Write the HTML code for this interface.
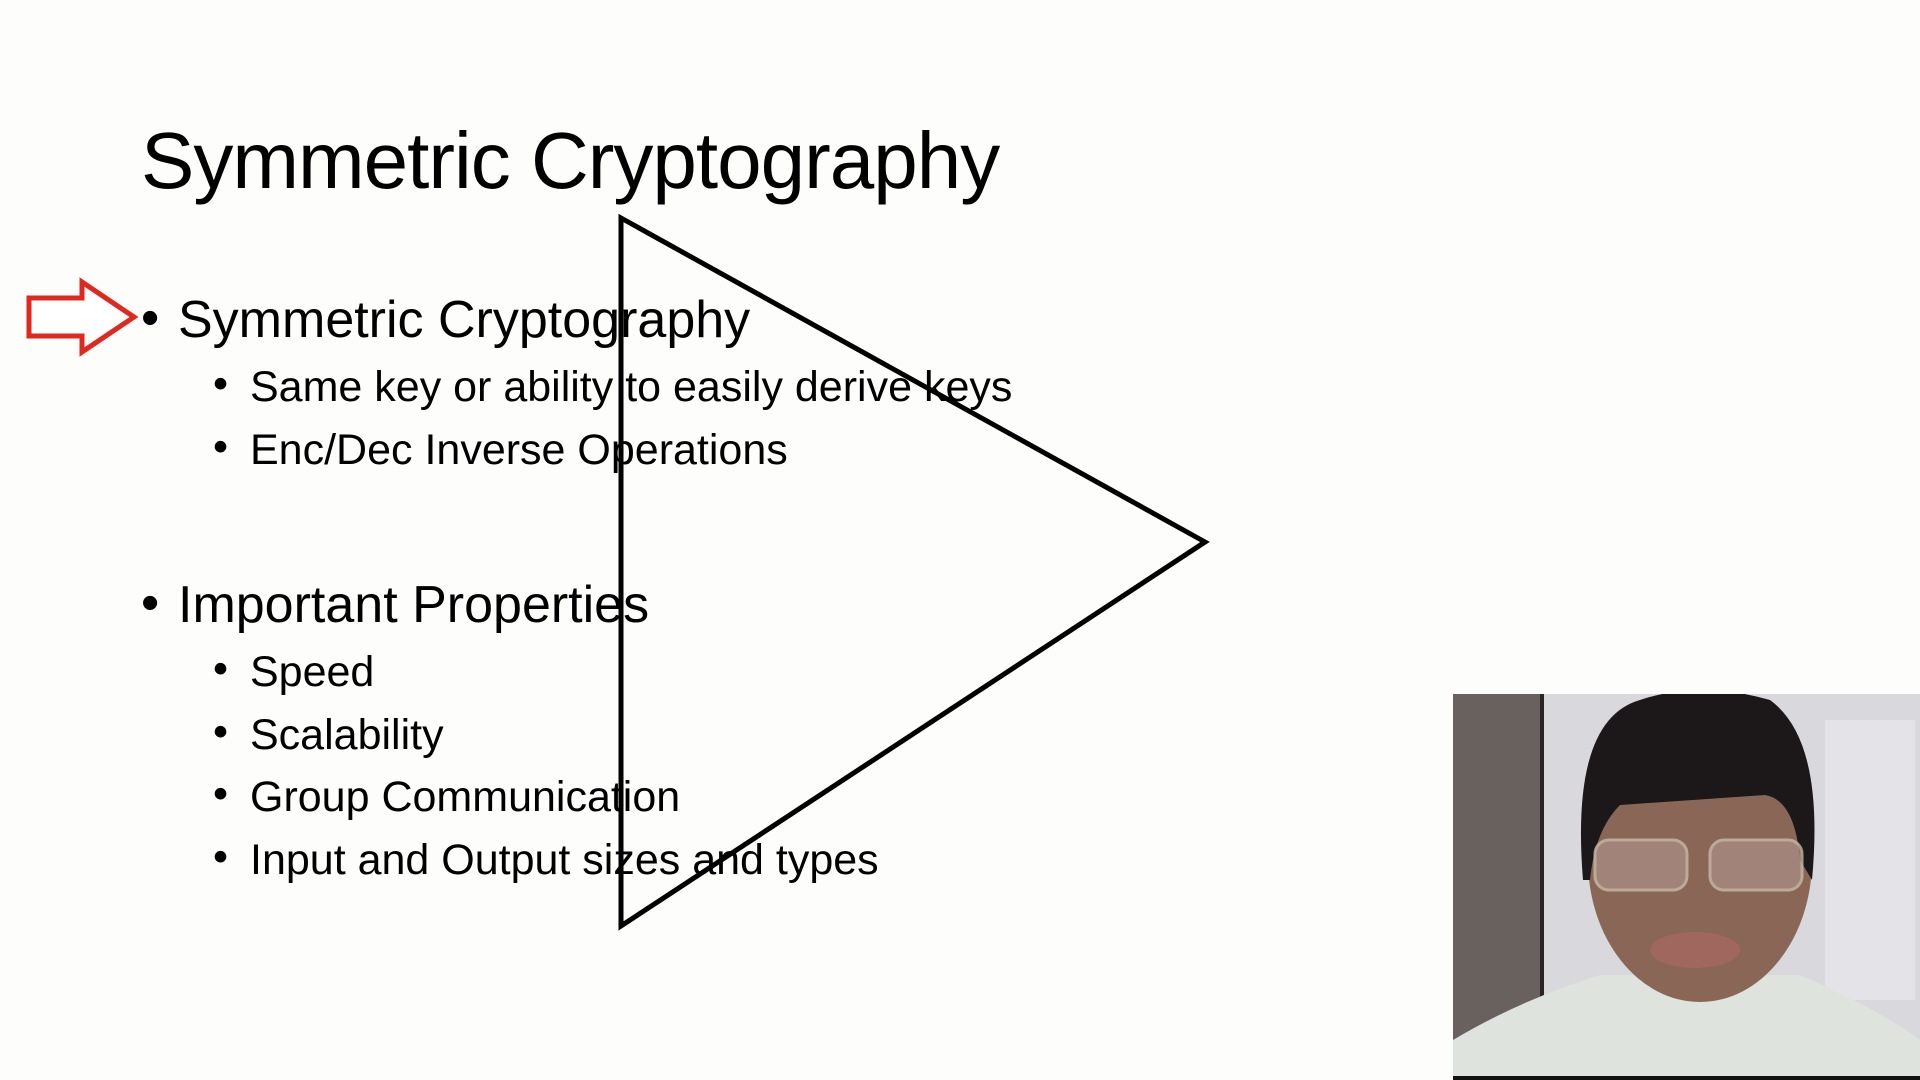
<!DOCTYPE html>
<html><head><meta charset="utf-8"><style>
body{margin:0;width:1920px;height:1080px;background:#fdfdfb;position:relative;overflow:hidden;font-family:"Liberation Sans",sans-serif;color:#000}
.t{position:absolute;white-space:nowrap;line-height:1}
.a{font-size:52px}
.b{font-size:43px}
</style></head><body>
<div class="t" style="left:141px;top:121px;font-size:80px;letter-spacing:-1px">Symmetric Cryptography</div>
<div class="t a" style="left:141px;top:292px">•</div>
<div class="t a" style="left:178px;top:294px">Symmetric Cryptography</div>
<div class="t b" style="left:213px;top:363px">•</div>
<div class="t b" style="left:250px;top:366px">Same key or ability to easily derive keys</div>
<div class="t b" style="left:213px;top:426px">•</div>
<div class="t b" style="left:250px;top:429px">Enc/Dec Inverse Operations</div>
<div class="t a" style="left:141px;top:577px">•</div>
<div class="t a" style="left:178px;top:579px">Important Properties</div>
<div class="t b" style="left:213px;top:648px">•</div>
<div class="t b" style="left:250px;top:651px">Speed</div>
<div class="t b" style="left:213px;top:711px">•</div>
<div class="t b" style="left:250px;top:714px">Scalability</div>
<div class="t b" style="left:213px;top:773px">•</div>
<div class="t b" style="left:250px;top:776px">Group Communication</div>
<div class="t b" style="left:213px;top:836px">•</div>
<div class="t b" style="left:250px;top:839px">Input and Output sizes and types</div>
<svg width="1920" height="1080" style="position:absolute;left:0;top:0">
<defs><clipPath id="c"><rect x="1453" y="694" width="467" height="386"/></clipPath></defs>
<polygon points="621,218 1205,542 621,926" fill="none" stroke="#000" stroke-width="5"/>
<polygon points="29,298 82,298 82,282 134,317 82,352 82,336 29,336" fill="#fff" stroke="#e0281e" stroke-width="5" stroke-linejoin="miter"/>
<g clip-path="url(#c)">
<rect x="1453" y="694" width="467" height="386" fill="#d9d8dc"/>
<rect x="1453" y="694" width="90" height="386" fill="#68615d"/>
<rect x="1540" y="694" width="4" height="386" fill="#2a2424"/>
<rect x="1825" y="720" width="90" height="280" fill="#e4e4e8"/>
<path d="M1453 1080 L1453 1040 Q1520 1000 1600 975 L1800 975 Q1880 1010 1920 1040 L1920 1080Z" fill="#dfe3de"/>
<ellipse cx="1700" cy="860" rx="112" ry="142" fill="#8a6656"/>
<path d="M1583 880 Q1570 720 1640 700 Q1700 680 1770 700 Q1825 740 1812 880 L1800 860 Q1795 800 1765 795 L1620 805 Q1595 830 1590 880Z" fill="#1c1718"/>
<rect x="1595" y="840" width="92" height="50" rx="14" fill="#a88b84" stroke="#c7bca8" stroke-width="3" opacity="0.8"/>
<rect x="1710" y="840" width="92" height="50" rx="14" fill="#a88b84" stroke="#c7bca8" stroke-width="3" opacity="0.8"/>
<ellipse cx="1695" cy="950" rx="45" ry="18" fill="#a0675e"/>
<rect x="1453" y="1076" width="467" height="4" fill="#111"/>
</g>
</svg>
</body></html>
